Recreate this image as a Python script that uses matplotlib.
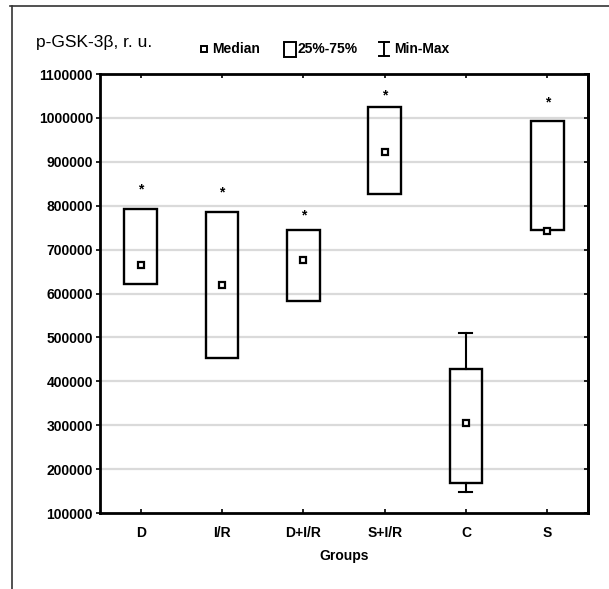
import numpy as np
import matplotlib
matplotlib.use('Agg')
import matplotlib.pyplot as plt
from matplotlib.lines import Line2D
from matplotlib.patches import Rectangle

groups = ['D', 'I/R', 'D+I/R', 'S+I/R', 'C', 'S']
q25 = [622000, 454000, 582000, 826000, 168000, 744000]
q75 = [792000, 785000, 744000, 1024000, 427000, 992000]
medians = [664000, 619000, 676000, 922000, 306000, 743000]
mins = [622000, 454000, 582000, 826000, 148000, 744000]
maxs = [792000, 785000, 744000, 1024000, 511000, 992000]
stars = [838000, 831000, 778000, 1052000, None, 1036000]
yticks = [100000, 200000, 300000, 400000, 500000, 600000, 700000, 800000, 900000, 1000000, 1100000]

plt.rcParams['font.family'] = ['Liberation Sans', 'DejaVu Sans']

fig = plt.figure(figsize=(6.09, 5.89), dpi=100)
ax = fig.add_axes([0.1642, 0.129, 0.8013, 0.7453])

x = np.arange(len(groups))
box_w = 0.40
cap_w = 0.16

for gl in yticks[1:-1]:
    ax.axhline(gl, color='#dadada', lw=1.6, zorder=0)

for i in x:
    ax.add_patch(Rectangle((i - box_w / 2, q25[i]), box_w, q75[i] - q25[i],
                           facecolor='none', edgecolor='black', lw=1.7, zorder=3))
    if maxs[i] > q75[i]:
        ax.plot([i, i], [q75[i], maxs[i]], color='black', lw=1.5, zorder=3)
        ax.plot([i - cap_w / 2, i + cap_w / 2], [maxs[i], maxs[i]], color='black', lw=1.5, zorder=3)
    if mins[i] < q25[i]:
        ax.plot([i, i], [q25[i], mins[i]], color='black', lw=1.5, zorder=3)
        ax.plot([i - cap_w / 2, i + cap_w / 2], [mins[i], mins[i]], color='black', lw=1.5, zorder=3)
    if stars[i] is not None:
        ax.text(i, stars[i], '*', ha='center', va='center', fontsize=10, fontweight='bold', zorder=4)

ax.plot(x, medians, linestyle='none', marker='s', markersize=4.5, markerfacecolor='white',
        markeredgecolor='black', markeredgewidth=1.6, zorder=5)

ax.set_xlim(-0.5, len(groups) - 0.5)
ax.set_ylim(100000, 1100000)
ax.set_yticks(yticks)
ax.set_yticklabels([str(v) for v in yticks], fontsize=10, fontweight='bold')
ax.set_xticks(x)
ax.set_xticklabels(groups, fontsize=10, fontweight='bold')
ax.tick_params(axis='y', direction='out', length=3, width=1.2, pad=2)
ax.tick_params(axis='x', direction='in', length=3, width=1.2, pad=9, top=True)
sec = ax.secondary_yaxis('right')
sec.set_yticks(yticks)
sec.tick_params(direction='in', length=3, width=1.2, labelright=False)
sec.spines['right'].set_linewidth(2)
for s in ax.spines.values():
    s.set_linewidth(2)

ax.set_xlabel('Groups', fontsize=10, fontweight='bold', labelpad=7)

# title and legend above the plot
fig.text(36 / 609, 1 - 42 / 589, 'p-GSK-3β, r. u.', fontsize=12.5, va='center', ha='left')
fig.add_artist(Line2D([204 / 609], [1 - 49 / 589], marker='s', markersize=4, markerfacecolor='white',
                      markeredgecolor='black', markeredgewidth=1.4, linestyle='none'))
fig.text(212 / 609, 1 - 49 / 589, 'Median', fontsize=10, fontweight='bold', va='center', ha='left')
fig.add_artist(Rectangle((284 / 609, 1 - 57 / 589), 12 / 609, 15 / 589, transform=fig.transFigure,
                         facecolor='none', edgecolor='black', lw=1.4))
fig.text(297 / 609, 1 - 49 / 589, '25%-75%', fontsize=10, fontweight='bold', va='center', ha='left')
bx = 384 / 609
fig.add_artist(Line2D([bx, bx], [1 - 42 / 589, 1 - 56 / 589], color='black', lw=1.4))
fig.add_artist(Line2D([bx - 5 / 609, bx + 5 / 609], [1 - 42 / 589, 1 - 42 / 589], color='black', lw=1.4))
fig.add_artist(Line2D([bx - 5 / 609, bx + 5 / 609], [1 - 56 / 589, 1 - 56 / 589], color='black', lw=1.4))
fig.text(394 / 609, 1 - 49 / 589, 'Min-Max', fontsize=10, fontweight='bold', va='center', ha='left')

# outer frame (top and left edges)
fig.add_artist(Line2D([10 / 609, 1], [1 - 6 / 589, 1 - 6 / 589], color='#333333', lw=1.2))
fig.add_artist(Line2D([12 / 609, 12 / 609], [0, 1 - 6 / 589], color='#333333', lw=1.2))

plt.savefig('out.png', dpi=100)
plt.close()
